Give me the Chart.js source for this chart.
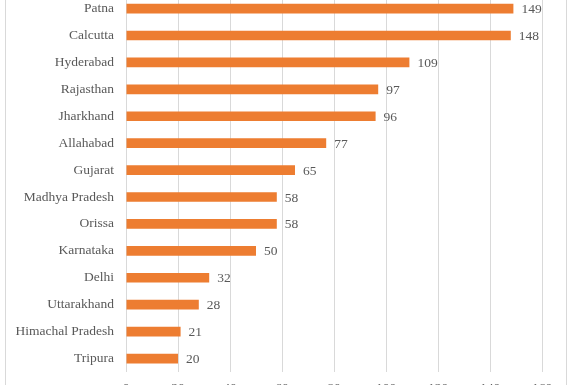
<!DOCTYPE html>
<html>
<head>
<meta charset="utf-8">
<script src="https://cdn.jsdelivr.net/npm/chart.js@4.4.1/dist/chart.umd.min.js"></script>
<style>
  html, body { margin: 0; padding: 0; background: #fff; overflow: hidden; }
  #frame { position: absolute; left: 5px; top: -10px; width: 560px; height: 420px;
           border-left: 1px solid #d9d9d9; border-right: 1px solid #d9d9d9; }
  #box { position: absolute; left: 0; top: -17px; width: 573px; height: 419px; }
</style>
</head>
<body>
<div id="frame"></div>
<div id="box"><canvas id="grafica"></canvas></div>
<script>
  // datos
  const estados = [
    "Patna", "Calcutta", "Hyderabad", "Rajasthan", "Jharkhand", "Allahabad", "Gujarat",
    "Madhya Pradesh", "Orissa", "Karnataka", "Delhi", "Uttarakhand", "Himachal Pradesh", "Tripura"
  ];
  const valores = [149, 148, 109, 97, 96, 77, 65, 58, 58, 50, 32, 28, 21, 20];
  const ticksX = [0, 20, 40, 60, 80, 100, 120, 140, 160];

  const fuente = "'Liberation Serif', 'DejaVu Serif', serif";

  // etiquetas de valor al final de cada barra
  const etiquetas = {
    id: 'etiquetas',
    afterDatasetsDraw(chart) {
      const ctx = chart.ctx;
      const meta = chart.getDatasetMeta(0);
      ctx.save();
      ctx.font = "13.5px " + fuente;
      ctx.fillStyle = "#595959";
      ctx.textAlign = "left";
      ctx.textBaseline = "middle";
      meta.data.forEach(function (bar, i) {
        ctx.fillText(String(valores[i]), bar.x + 8, bar.y + 1);
      });
      ctx.restore();
    }
  };

  const ctx = document.getElementById('grafica').getContext('2d');
  new Chart(ctx, {
    type: 'bar',
    data: {
      labels: estados,
      datasets: [{
        data: valores,
        backgroundColor: '#ED7D31',
        barPercentage: 0.36,
        categoryPercentage: 1
      }]
    },
    options: {
      indexAxis: 'y',
      responsive: true,
      maintainAspectRatio: false,
      animation: false,
      layout: { padding: { left: 0, right: 31, top: 0, bottom: 0 } },
      plugins: { legend: { display: false }, tooltip: { enabled: false } },
      scales: {
        x: {
          min: 0,
          max: 160,
          afterBuildTicks(scale) { scale.ticks = ticksX.map(v => ({ value: v })); },
          afterFit(scale) { scale.height = 30; },
          grid: { color: '#d9d9d9', drawTicks: false },
          border: { display: false },
          ticks: { padding: 8, color: '#595959', font: { family: fuente, size: 13.5 } }
        },
        y: {
          afterFit(scale) { scale.width = 126; },
          grid: { display: false },
          border: { display: false },
          ticks: { padding: 4, color: '#595959', font: { family: fuente, size: 13.5 } }
        }
      }
    },
    plugins: [etiquetas]
  });
</script>
</body>
</html>
